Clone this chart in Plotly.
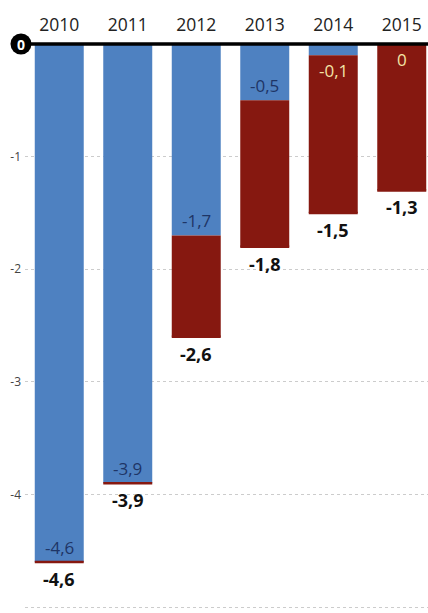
import plotly.graph_objects as go

years = ["2010", "2011", "2012", "2013", "2014", "2015"]
planned = [-4.6, -3.9, -1.7, -0.5, -0.1, 0.0]
actual = [-4.6, -3.9, -2.6, -1.8, -1.5, -1.3]
y_ticks = [-1, -2, -3, -4, -5]

BLUE = "#4e81c1"
RED = "#861810"
NAVY = "#1e3566"
CREAM = "#f3e4a6"
FONT = "Open Sans"

def fmt(v):
    s = f"{v:.1f}".replace(".", ",")
    if s.endswith(",0"):
        s = s[:-2]
    if s == "-0":
        s = "0"
    return s

xi = list(range(len(years)))
bw = 0.715

fig = go.Figure()
fig.add_trace(go.Bar(x=xi, y=planned, base=0, marker_color=BLUE, width=bw,
                     marker_line_width=0, hoverinfo="skip"))
fig.add_trace(go.Bar(x=xi, y=[a - p for a, p in zip(actual, planned)], base=planned,
                     marker_color=RED, width=bw, marker_line_width=0, hoverinfo="skip"))

# thin red line at the end of every bar
for i, a in enumerate(actual):
    fig.add_shape(type="line", xref="x", yref="y", x0=i - bw / 2, x1=i + bw / 2,
                  y0=a, y1=a, line=dict(color=RED, width=2.5), layer="above")

annotations = []
for i, (p, a) in enumerate(zip(planned, actual)):
    if p <= -0.3:
        annotations.append(dict(x=i, y=p, xref="x", yref="y", text=fmt(p), showarrow=False,
                                yanchor="bottom", yshift=1,
                                font=dict(family=FONT, size=17, color=NAVY)))
    else:
        annotations.append(dict(x=i, y=p, xref="x", yref="y", text=fmt(p), showarrow=False,
                                yanchor="top", yshift=-2,
                                font=dict(family=FONT, size=17, color=CREAM)))
    annotations.append(dict(x=i, y=a, xref="x", yref="y", text="<b>" + fmt(a) + "</b>",
                            showarrow=False, yanchor="top", yshift=-3,
                            font=dict(family=FONT, size=18, color="#111")))

# zero marker (top of plot area is the zero line)
zx = -0.01
fig.add_shape(type="line", xref="paper", yref="paper", x0=zx, x1=1, y0=1, y1=1,
              line=dict(color="black", width=3.5), layer="above")
fig.add_shape(type="circle", xref="paper", yref="paper", xsizemode="pixel", ysizemode="pixel",
              xanchor=zx, yanchor=1, x0=-10.5, x1=10.5, y0=-10.5, y1=10.5,
              fillcolor="black", line=dict(color="black", width=0), layer="above")
annotations.append(dict(x=zx, y=1, xref="paper", yref="paper", text="<b>0</b>", showarrow=False,
                        xanchor="center", yanchor="middle",
                        font=dict(family=FONT, size=14, color="white")))

fig.update_layout(
    width=428, height=613,
    margin=dict(l=25, r=0, t=44, b=0),
    paper_bgcolor="white", plot_bgcolor="white",
    showlegend=False, barmode="overlay",
    annotations=annotations,
    xaxis=dict(side="top", tickmode="array", tickvals=xi, ticktext=years,
               range=[-0.5, -0.5 + 403 / 68.5], showgrid=False, zeroline=False,
               showline=False, ticks="", ticklabelstandoff=9,
               tickfont=dict(family=FONT, size=17.5, color="#222")),
    yaxis=dict(range=[-569 / 112.6, 0], tickmode="array", tickvals=y_ticks,
               ticktext=[str(v) for v in y_ticks], showgrid=True, gridcolor="#cccccc",
               griddash="dot", gridwidth=1, zeroline=False, showline=False, ticks="",
               ticklabelstandoff=3,
               tickfont=dict(family=FONT, size=12, color="#444")),
)

fig.write_html("out.html")
